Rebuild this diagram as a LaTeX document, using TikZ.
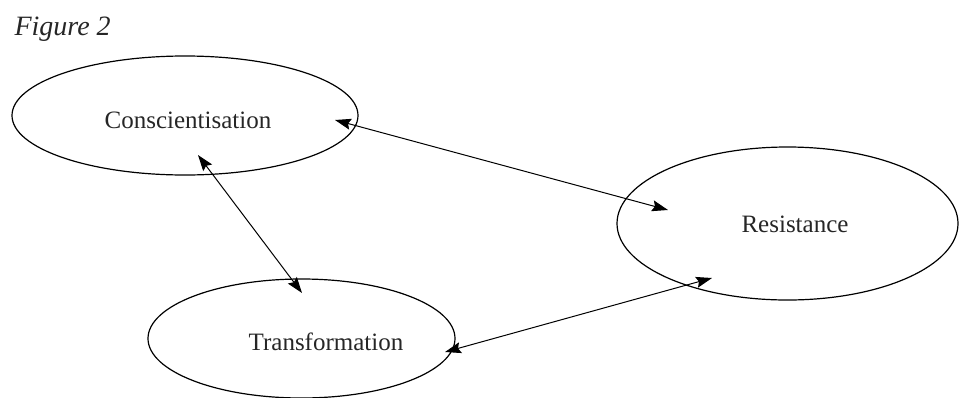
\documentclass[tikz,border=0pt]{standalone}
\usepackage{fontspec}
\setmainfont{Liberation Serif}
\usetikzlibrary{arrows.meta,shapes.geometric}
\begin{document}
\begin{tikzpicture}[x=1pt,y=-1pt,
  oval/.style={draw, line width=1.2pt, ellipse, inner sep=0pt},
  lbl/.style={anchor=base, font=\fontsize{25}{28}\selectfont, text=black!85},
  tip/.style={Stealth[length=16pt,width=11pt,inset=2.5pt]},
  link/.style={line width=1pt, {Stealth[length=16pt,width=11pt,inset=2.5pt]}-{Stealth[length=16pt,width=11pt,inset=2.5pt]}}]
\useasboundingbox (0,0) rectangle (960,397);
\node[anchor=base west, font=\fontsize{28}{32}\itshape, text=black!85] (title) at (11,35) {Figure 2};
\node[oval, minimum width=346pt, minimum height=119pt] (con) at (185,115.5) {};
\node[oval, minimum width=341pt, minimum height=153pt] (res) at (787.5,223.5) {};
\node[oval, minimum width=307pt, minimum height=119pt] (tra) at (301.5,338.5) {};
\node[lbl] (conT) at (188,128) {Conscientisation};
\node[lbl] (resT) at (795,232) {Resistance};
\node[lbl] (traT) at (326,350) {Transformation};
\coordinate (c1) at (335,120);
\coordinate (r1) at (668,210);
\coordinate (c2) at (198,155);
\coordinate (t2) at (302,293);
\coordinate (t3) at (445,352);
\coordinate (r3) at (712,278);
\draw[link] (c1) -- (r1);
\draw[link] (c2) -- (t2);
\draw[link] (t3) -- (r3);
\end{tikzpicture}
\end{document}
